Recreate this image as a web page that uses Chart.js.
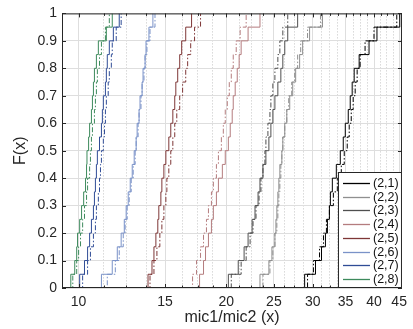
<!DOCTYPE html>
<html>
<head>
<meta charset="utf-8">
<script src="https://cdn.jsdelivr.net/npm/chart.js@4"></script>
<style>
  html, body { margin: 0; padding: 0; background: #fff; }
  .container { position: relative; width: 413px; height: 329px; }
</style>
</head>
<body>
<div class="container"><canvas id="cdfChart"></canvas></div>
<script>
// F(x) levels at which each empirical CDF steps up
const fLevels = [0, 0.05, 0.1, 0.15, 0.2, 0.25, 0.3, 0.35, 0.4, 0.45, 0.5,
                 0.55, 0.6, 0.65, 0.7, 0.75, 0.8, 0.85, 0.9, 0.95, 1];

// x (mic1/mic2) where each curve reaches the matching level
const s21Solid = [28.21, 28.88, 30.39, 31.26, 31.84, 32.14, 32.44, 32.59, 32.89, 33.51, 34.14, 34.62, 34.95, 35.44, 35.77, 36.10, 36.44, 37.30, 39.07, 40.55, 45.13];
const s21Dash  = [27.95, 29.28, 30.10, 30.97, 31.55, 31.99, 32.44, 33.05, 33.67, 34.30, 34.78, 35.27, 35.60, 35.94, 36.27, 36.61, 36.95, 37.47, 38.35, 39.99, 44.50];
const s22Solid = [22.36, 23.42, 24.42, 24.77, 25.12, 25.24, 25.35, 25.47, 25.59, 25.71, 25.95, 26.07, 26.31, 26.56, 26.93, 27.31, 27.69, 28.21, 28.61, 29.56, 31.40];
const s22Dash  = [22.67, 23.75, 24.54, 24.88, 25.12, 25.35, 25.47, 25.59, 25.71, 25.83, 25.95, 26.07, 26.31, 26.56, 26.80, 27.18, 27.56, 27.95, 28.35, 29.28, 31.11];
const s23Solid = [19.09, 20.19, 21.15, 21.74, 22.15, 22.57, 22.88, 23.21, 23.42, 23.75, 24.08, 24.42, 24.65, 24.88, 25.12, 25.47, 25.83, 26.07, 26.31, 26.68, 27.95];
const s23Dash  = [19.45, 20.47, 21.44, 21.95, 22.36, 22.67, 22.99, 23.32, 23.53, 23.75, 23.97, 24.08, 24.31, 24.54, 24.65, 24.88, 25.12, 25.47, 25.71, 26.07, 26.68];
const s24Solid = [17.39, 17.64, 17.97, 18.14, 18.39, 18.65, 18.82, 19.09, 19.27, 19.63, 19.90, 20.19, 20.37, 20.56, 20.66, 20.85, 21.05, 21.24, 21.44, 22.15, 23.42];
const s24Dash  = [16.76, 17.07, 17.39, 17.72, 17.97, 18.22, 18.39, 18.65, 18.82, 19.09, 19.27, 19.54, 19.72, 19.90, 20.09, 20.28, 20.47, 20.66, 20.95, 21.34, 21.95];
const s25Solid = [13.59, 13.85, 14.11, 14.24, 14.37, 14.50, 14.57, 14.71, 14.78, 14.92, 15.06, 15.27, 15.41, 15.56, 15.70, 15.78, 15.92, 16.07, 16.22, 16.53, 16.99];
const s25Dash  = [13.78, 13.98, 14.24, 14.44, 14.64, 14.78, 14.92, 15.06, 15.13, 15.27, 15.41, 15.56, 15.70, 15.85, 16.07, 16.29, 16.53, 16.68, 16.92, 17.23, 17.72];
const s26Solid = [10.72, 11.13, 11.71, 11.99, 12.21, 12.39, 12.50, 12.62, 12.74, 12.86, 12.98, 13.10, 13.16, 13.28, 13.34, 13.47, 13.53, 13.66, 13.72, 13.91, 14.17];
const s26Dash  = [11.03, 11.44, 11.88, 12.10, 12.33, 12.44, 12.56, 12.68, 12.80, 12.92, 13.04, 13.10, 13.22, 13.28, 13.40, 13.47, 13.59, 13.66, 13.78, 13.98, 14.31];
const s27Solid = [9.91, 10.05, 10.28, 10.43, 10.53, 10.62, 10.72, 10.77, 10.82, 10.87, 10.92, 11.03, 11.13, 11.18, 11.23, 11.34, 11.39, 11.44, 11.55, 11.77, 12.10];
const s27Dash  = [10.05, 10.19, 10.43, 10.57, 10.72, 10.82, 10.87, 10.97, 11.03, 11.08, 11.13, 11.23, 11.29, 11.34, 11.39, 11.49, 11.55, 11.66, 11.71, 11.93, 12.21];
const s28Solid = [9.50, 9.64, 9.82, 9.91, 9.95, 10.05, 10.14, 10.24, 10.33, 10.38, 10.40, 10.48, 10.53, 10.62, 10.67, 10.72, 10.77, 10.87, 10.97, 11.39, 11.71];
const s28Dash  = [9.59, 9.73, 9.91, 10.00, 10.09, 10.19, 10.28, 10.38, 10.43, 10.53, 10.57, 10.62, 10.67, 10.77, 10.82, 10.87, 10.92, 11.03, 11.13, 11.34, 11.55];

const seriesLabels = ["(2,1)", "(2,2)", "(2,3)", "(2,4)", "(2,5)", "(2,6)", "(2,7)", "(2,8)"];
const seriesColors = ["#000000", "#8f8f8f", "#4f4f4f", "#b47c7e", "#7e3636", "#7a92c8", "#2f4c96", "#3d8a5c"];
const solidRuns = [s21Solid, s22Solid, s23Solid, s24Solid, s25Solid, s26Solid, s27Solid, s28Solid];
const dashRuns  = [s21Dash, s22Dash, s23Dash, s24Dash, s25Dash, s26Dash, s27Dash, s28Dash];

const xMajorTicks = [10, 15, 20, 25, 30, 35, 40, 45];
const yTicks = [0, 0.1, 0.2, 0.3, 0.4, 0.5, 0.6, 0.7, 0.8, 0.9, 1];

const FONT = '"Liberation Sans", Arial, Helvetica, sans-serif';

// minor ticks split each major interval in four
const xAllTicks = [];
xMajorTicks.forEach((v, i) => {
  xAllTicks.push(v);
  if (i < xMajorTicks.length - 1) {
    const step = (xMajorTicks[i + 1] - v) / 4;
    for (let k = 1; k < 4; k++) xAllTicks.push(v + k * step);
  }
});
const isMajor = (v) => xMajorTicks.includes(v);

const toPoints = (xs) => xs.map((x, i) => ({ x: x, y: fLevels[i] }));

const datasets = [];
seriesLabels.forEach((label, i) => {
  datasets.push({
    label: label,
    data: toPoints(solidRuns[i]),
    borderColor: seriesColors[i],
    borderWidth: 1,
    stepped: true,
    pointRadius: 0,
    fill: false,
  });
  datasets.push({
    label: label + " dash",
    data: toPoints(dashRuns[i]),
    borderColor: seriesColors[i],
    borderWidth: 1,
    borderDash: [5, 2, 1.5, 2],
    stepped: true,
    pointRadius: 0,
    fill: false,
  });
});

// axes box with inward tick marks
const frame = {
  id: "frame",
  afterDatasetsDraw(chart) {
    const { ctx, chartArea: a, scales } = chart;
    ctx.save();
    ctx.strokeStyle = "#262626";
    ctx.lineWidth = 1;
    ctx.strokeRect(a.left + 0.5, a.top + 0.5, a.right - a.left - 1, a.bottom - a.top - 1);
    ctx.beginPath();
    scales.x.ticks.forEach((t) => {
      const px = Math.round(scales.x.getPixelForValue(t.value)) + 0.5;
      const len = isMajor(t.value) ? 4 : 2.5;
      ctx.moveTo(px, a.bottom); ctx.lineTo(px, a.bottom - len);
      ctx.moveTo(px, a.top); ctx.lineTo(px, a.top + len);
    });
    scales.y.ticks.forEach((t) => {
      const py = Math.round(scales.y.getPixelForValue(t.value)) + 0.5;
      ctx.moveTo(a.left, py); ctx.lineTo(a.left + 4, py);
      ctx.moveTo(a.right, py); ctx.lineTo(a.right - 4, py);
    });
    ctx.stroke();
    ctx.restore();
  },
};

// legend box in the lower right corner of the plot
const boxLegend = {
  id: "boxLegend",
  afterDraw(chart) {
    const { ctx, chartArea: a } = chart;
    const w = 64, h = 116;
    const left = a.right - w, top = a.bottom - h;
    ctx.save();
    ctx.fillStyle = "#fff";
    ctx.fillRect(left, top, w, h);
    ctx.strokeStyle = "#262626";
    ctx.lineWidth = 1;
    ctx.strokeRect(left + 0.5, top + 0.5, w - 1, h - 1);
    ctx.font = "12.5px " + FONT;
    ctx.textBaseline = "middle";
    seriesLabels.forEach((label, i) => {
      const yy = Math.round(top + 11 + i * 13.7) + 0.5;
      ctx.strokeStyle = seriesColors[i];
      ctx.lineWidth = 1.3;
      ctx.beginPath();
      ctx.moveTo(left + 5, yy);
      ctx.lineTo(left + 32, yy);
      ctx.stroke();
      ctx.fillStyle = "#111";
      ctx.fillText(label, left + 35, yy);
    });
    ctx.restore();
  },
};

new Chart(document.getElementById("cdfChart"), {
  type: "line",
  data: { datasets: datasets },
  plugins: [frame, boxLegend],
  options: {
    responsive: true,
    maintainAspectRatio: false,
    animation: false,
    layout: { padding: { left: 0, top: 5, right: 8, bottom: 0 } },
    plugins: { legend: { display: false }, tooltip: { enabled: false } },
    scales: {
      x: {
        type: "logarithmic",
        min: 9.25,
        max: 45.6,
        afterBuildTicks: (scale) => {
          scale.ticks = xAllTicks.map((v) => ({ value: v, major: isMajor(v) }));
        },
        afterFit: (scale) => { scale.height = 41; },
        ticks: {
          autoSkip: false,
          maxRotation: 0,
          padding: 6,
          color: "#262626",
          font: { family: FONT, size: 14 },
          callback: (v) => (isMajor(v) ? String(v) : ""),
        },
        grid: {
          drawTicks: false,
          color: (c) => (c.tick && isMajor(c.tick.value) ? "#dedede" : "#c4c4c4"),
          lineWidth: 1,
        },
        border: {
          display: false,
          dash: (c) => (c.tick && !isMajor(c.tick.value) ? [1, 2] : []),
        },
        title: {
          display: true,
          text: "mic1/mic2 (x)",
          color: "#262626",
          font: { family: FONT, size: 16 },
          padding: { top: 0, bottom: 2 },
        },
      },
      y: {
        type: "linear",
        min: 0,
        max: 1,
        afterBuildTicks: (scale) => {
          scale.ticks = yTicks.map((v) => ({ value: v }));
        },
        afterFit: (scale) => { scale.width = 62; },
        ticks: {
          padding: 5,
          color: "#262626",
          font: { family: FONT, size: 14 },
          callback: (v) => String(Number(v.toFixed(1))),
        },
        grid: { drawTicks: false, color: "#dedede", lineWidth: 1 },
        border: { display: false },
        title: {
          display: true,
          text: "F(x)",
          color: "#262626",
          font: { family: FONT, size: 16 },
          padding: { top: 11, bottom: 0 },
        },
      },
    },
  },
});
</script>
</body>
</html>
